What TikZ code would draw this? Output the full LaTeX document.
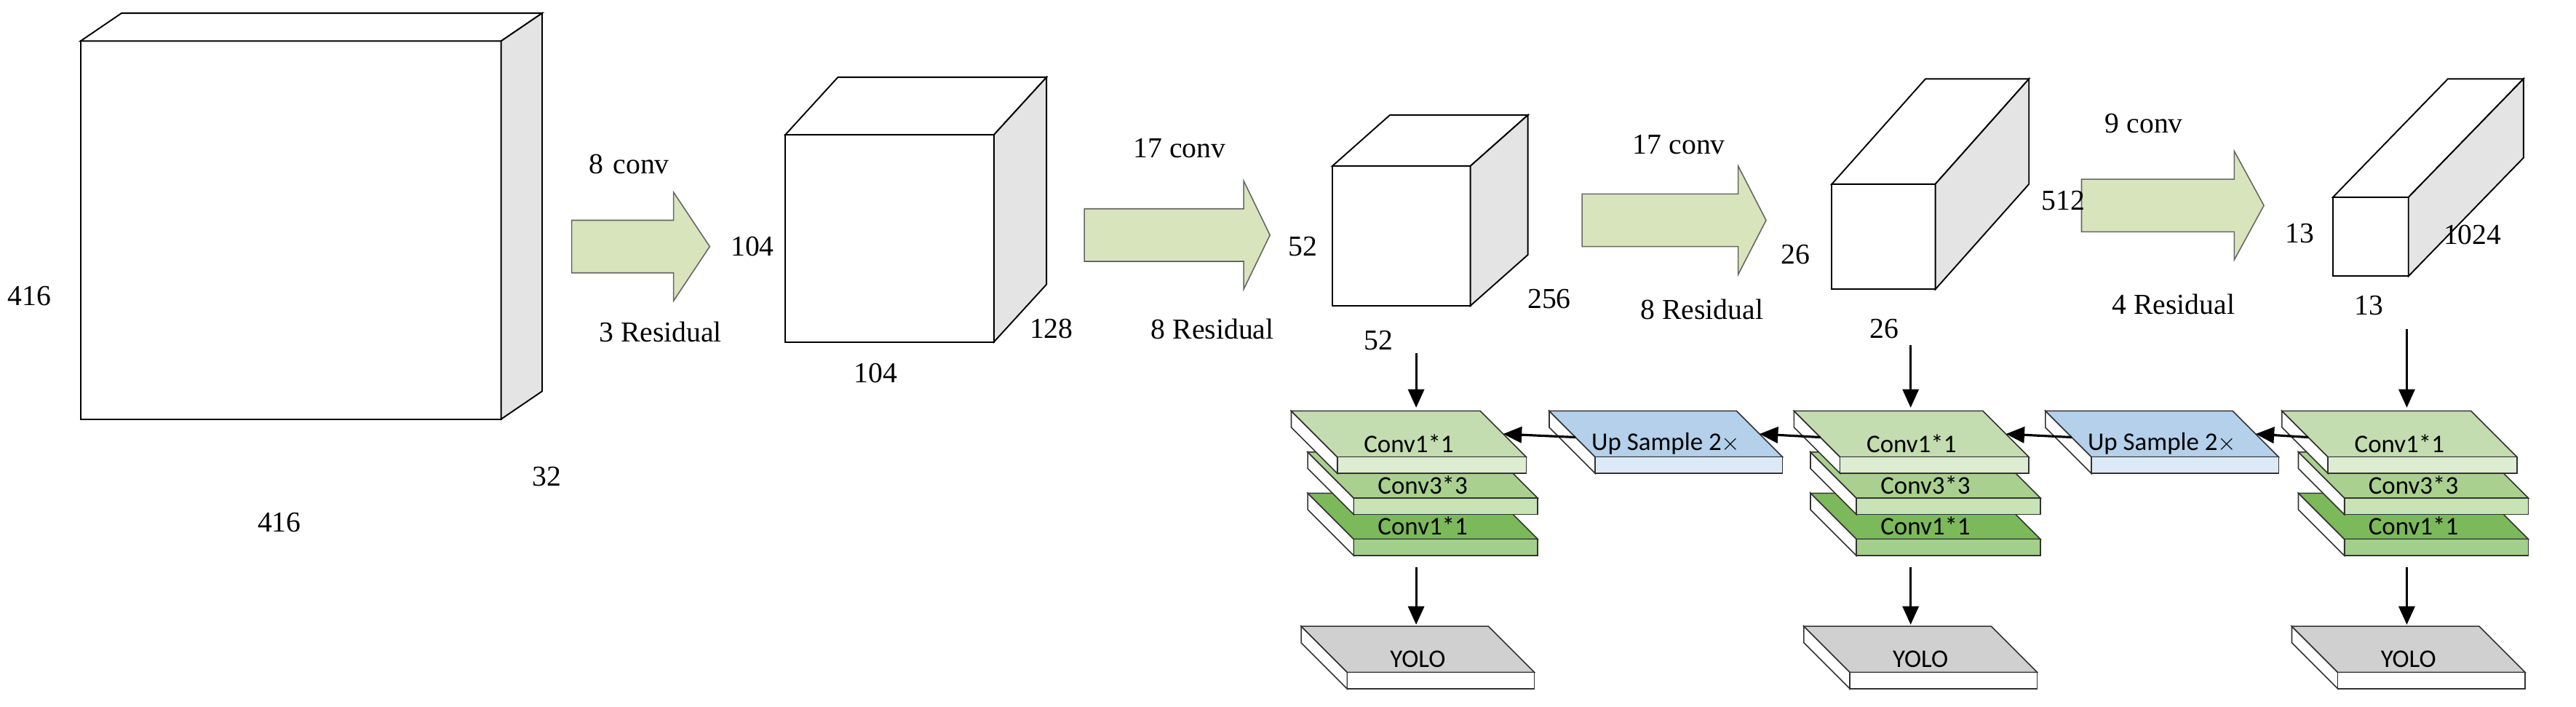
\documentclass[tikz,border=0pt]{standalone}
\usepackage{fontspec}
\setmainfont{Liberation Serif}
\newfontfamily\slabfont{Carlito}
\usetikzlibrary{arrows.meta}

\definecolor{arrowfill}{HTML}{D8E4BC}
\definecolor{sideg}{HTML}{E4E4E4}
\definecolor{gtopa}{HTML}{C4DDB0}
\definecolor{gfra}{HTML}{DDEDD2}
\definecolor{gtopb}{HTML}{A9D08E}
\definecolor{gfrb}{HTML}{C8E3B6}
\definecolor{gtopc}{HTML}{7CB95A}
\definecolor{gfrc}{HTML}{A2D08A}
\definecolor{btop}{HTML}{B4D0EA}
\definecolor{bfr}{HTML}{DCE9F6}
\definecolor{ytop}{HTML}{D0D0D0}

\tikzset{
  cube/.style={draw=black, line width=1.2pt, fill=white},
  slab/.style={draw=black!80, line width=1pt},
  lbl/.style={font=\fontsize{25}{28}\selectfont, inner sep=0pt},
  slabtxt/.style={font=\slabfont\fontsize{22}{24}\selectfont, inner sep=0pt},
  fat/.style={draw=black!60, line width=1pt, fill=arrowfill},
  link/.style={line width=2pt, -{Triangle[length=16pt,width=14pt]}}
}

% name, front top-left x y, front bottom-right x y, depth dx dy
\newcommand{\cube}[7]{
  \draw[cube] (#2,#3) rectangle (#4,#5);
  \draw[cube] (#2,#3) -- ++(#6,-#7) -- ++(#4-#2,0) -- (#4,#3) -- cycle;
  \draw[cube, fill=sideg] (#4,#3) -- ++(#6,-#7) -- ++(0,#5-#3) -- (#4,#5) -- cycle;
  \coordinate (#1) at (#2,#3);
}

% left x, shaft end x, tip x, centre y
\newcommand{\fatarrow}[4]{
  \draw[fat] (#1,#4-16) -- (#2,#4-16) -- (#2,#4-33) -- (#3,#4) -- (#2,#4+33)
    -- (#2,#4+16) -- (#1,#4+16) -- cycle;
}

% name, x, y, width, top colour, front colour, text
\newcommand{\slab}[7]{
  \draw[slab, fill=white] (#2,#3) -- (#2+28,#3+28) -- (#2+28,#3+38) -- (#2,#3+10) -- cycle;
  \draw[slab, fill=#5] (#2,#3) -- (#2+#4,#3) -- (#2+#4+28,#3+28) -- (#2+28,#3+28) -- cycle;
  \draw[slab, fill=#6] (#2+28,#3+28) rectangle (#2+#4+28,#3+38);
  \node[slabtxt] (#1) at (#2+14+#4/2,#3+20) {#7};
  \coordinate (#1-w) at (#2+16,#3+16);
  \coordinate (#1-e) at (#2+#4+14,#3+14);
}

\begin{document}
\begin{tikzpicture}[x=0.05cm, y=-0.05cm]
\useasboundingbox (0,0) rectangle (1568,430);

% backbone
\cube{c416}{49}{25}{305}{255}{25}{17}
\cube{c104}{478}{82}{605}{208}{32}{35}
\cube{c52}{811}{101}{895}{186}{35}{31}
\cube{c26}{1115}{112}{1178}{176}{57}{64}
\cube{c13}{1420}{120}{1466}{168}{70}{72}

\fatarrow{348}{410}{432}{150}
\fatarrow{660}{757}{773}{143}
\fatarrow{963}{1058}{1075}{134}
\fatarrow{1267}{1360}{1378}{125}

\node[lbl] (s1a) at (18,180) {416};
\node[lbl] (s1b) at (170,318) {416};
\node[lbl] (s1c) at (333,290) {32};
\node[lbl] (a1t) at (383,100) {8\,\,conv};
\node[lbl] (a1b) at (402,202) {3 Residual};
\node[lbl] (s2a) at (458,150) {104};
\node[lbl] (s2b) at (533,227) {104};
\node[lbl] (s2c) at (640,200) {128};
\node[lbl] (a2t) at (718,90) {17 conv};
\node[lbl] (a2b) at (738,200) {8 Residual};
\node[lbl] (s3a) at (793,150) {52};
\node[lbl] (s3b) at (839,207) {52};
\node[lbl] (s3c) at (943,182) {256};
\node[lbl] (a3t) at (1022,88) {17 conv};
\node[lbl] (a3b) at (1036,188) {8 Residual};
\node[lbl] (s4a) at (1093,155) {26};
\node[lbl] (s4b) at (1147,200) {26};
\node[lbl] (s4c) at (1256,122) {512};
\node[lbl] (a4t) at (1305,75) {9 conv};
\node[lbl] (a4b) at (1323,185) {4 Residual};
\node[lbl] (s5a) at (1400,142) {13};
\node[lbl] (s5b) at (1442,186) {13};
\node[lbl] (s5c) at (1505,143) {1024};

% detection heads
\foreach \c/\x in {p/786, q/1092, r/1389}{
  \slab{\c3}{\x+10}{300}{112}{gtopc}{gfrc}{Conv1*1}
  \slab{\c2}{\x+10}{275}{112}{gtopb}{gfrb}{Conv3*3}
  \slab{\c1}{\x}{250}{115}{gtopa}{gfra}{Conv1*1}
  \slab{\c4}{\x+6}{381}{114}{ytop}{white}{YOLO}
}
\slab{up1}{943}{250}{114}{btop}{bfr}{Up Sample 2$\times$}
\slab{up2}{1245}{250}{114}{btop}{bfr}{Up Sample 2$\times$}

\coordinate (d1) at (862,215);
\coordinate (d2) at (1163,210);
\coordinate (d3) at (1465,200);
\coordinate (e1) at (862,345);
\coordinate (e2) at (1163,345);
\coordinate (e3) at (1465,345);
\draw[link] (d1) -- (862,248);
\draw[link] (d2) -- (1163,248);
\draw[link] (d3) -- (1465,248);
\draw[link] (e1) -- (862,380);
\draw[link] (e2) -- (1163,380);
\draw[link] (e3) -- (1465,380);

\draw[link] (up1-w) -- (p1-e);
\draw[link] (q1-w) -- (up1-e);
\draw[link] (up2-w) -- (q1-e);
\draw[link] (r1-w) -- (up2-e);
\end{tikzpicture}
\end{document}
